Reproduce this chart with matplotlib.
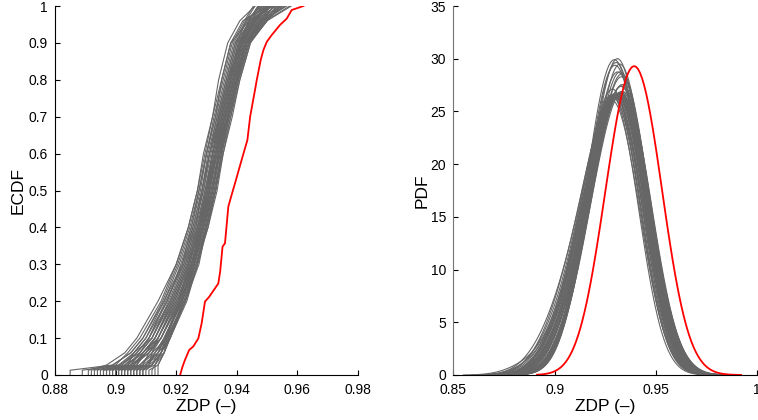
import numpy as np
import matplotlib.pyplot as plt

plt.rcParams['font.family'] = ['Liberation Sans', 'DejaVu Sans']

# ECDF levels shared by the grey curves (first level = first jump 1/75)
gray_levels = [0.013, 0.027, 0.06, 0.1, 0.2, 0.3, 0.4, 0.5, 0.6, 0.7, 0.8, 0.9, 0.96, 1.0]

# ZDP value of each grey curve at those levels
gray_curves = [
    [0.885, 0.899, 0.905, 0.909, 0.916, 0.921, 0.925, 0.928, 0.930, 0.933, 0.936, 0.939, 0.943, 0.948],
    [0.891, 0.897, 0.903, 0.907, 0.914, 0.920, 0.924, 0.927, 0.929, 0.932, 0.934, 0.937, 0.941, 0.946],
    [0.893, 0.902, 0.906, 0.910, 0.916, 0.922, 0.925, 0.9275, 0.930, 0.933, 0.935, 0.938, 0.942, 0.950],
    [0.894, 0.900, 0.904, 0.908, 0.915, 0.920, 0.924, 0.927, 0.9295, 0.932, 0.935, 0.938, 0.944, 0.947],
    [0.896, 0.903, 0.907, 0.911, 0.917, 0.922, 0.926, 0.929, 0.931, 0.934, 0.937, 0.940, 0.945, 0.951],
    [0.897, 0.904, 0.908, 0.911, 0.918, 0.923, 0.926, 0.929, 0.9315, 0.934, 0.937, 0.941, 0.946, 0.949],
    [0.898, 0.905, 0.908, 0.912, 0.918, 0.923, 0.927, 0.9295, 0.932, 0.935, 0.938, 0.941, 0.944, 0.952],
    [0.899, 0.903, 0.909, 0.913, 0.919, 0.924, 0.927, 0.930, 0.932, 0.935, 0.938, 0.942, 0.947, 0.950],
    [0.900, 0.906, 0.910, 0.913, 0.919, 0.924, 0.928, 0.930, 0.933, 0.936, 0.939, 0.942, 0.946, 0.953],
    [0.901, 0.907, 0.909, 0.914, 0.920, 0.925, 0.928, 0.931, 0.933, 0.936, 0.939, 0.943, 0.948, 0.951],
    [0.902, 0.905, 0.911, 0.914, 0.920, 0.925, 0.928, 0.931, 0.9335, 0.936, 0.939, 0.943, 0.947, 0.954],
    [0.903, 0.908, 0.912, 0.915, 0.921, 0.925, 0.929, 0.9315, 0.934, 0.937, 0.940, 0.943, 0.949, 0.952],
    [0.904, 0.909, 0.911, 0.915, 0.921, 0.926, 0.929, 0.932, 0.934, 0.937, 0.940, 0.944, 0.948, 0.955],
    [0.905, 0.908, 0.913, 0.916, 0.922, 0.926, 0.929, 0.932, 0.9345, 0.9375, 0.9405, 0.944, 0.950, 0.953],
    [0.906, 0.910, 0.914, 0.916, 0.922, 0.926, 0.930, 0.9325, 0.935, 0.937, 0.940, 0.943, 0.949, 0.956],
    [0.907, 0.911, 0.913, 0.917, 0.923, 0.927, 0.930, 0.933, 0.935, 0.9375, 0.9405, 0.944, 0.950, 0.958],
    [0.908, 0.912, 0.915, 0.917, 0.923, 0.927, 0.930, 0.933, 0.935, 0.937, 0.940, 0.943, 0.948, 0.951],
    [0.909, 0.913, 0.915, 0.918, 0.9235, 0.927, 0.930, 0.932, 0.934, 0.936, 0.939, 0.942, 0.946, 0.949],
    [0.912, 0.913, 0.916, 0.918, 0.923, 0.926, 0.929, 0.931, 0.933, 0.935, 0.938, 0.941, 0.945, 0.948],
    [0.914, 0.914, 0.916, 0.917, 0.921, 0.924, 0.927, 0.930, 0.932, 0.934, 0.937, 0.940, 0.943, 0.946],
    [0.889, 0.901, 0.906, 0.910, 0.917, 0.9215, 0.9255, 0.9285, 0.931, 0.9335, 0.9365, 0.9395, 0.9435, 0.9475],
    [0.892, 0.899, 0.905, 0.909, 0.9155, 0.9205, 0.9245, 0.9275, 0.930, 0.9325, 0.9355, 0.9385, 0.9425, 0.9455],
    [0.895, 0.902, 0.907, 0.911, 0.9165, 0.9225, 0.9255, 0.9285, 0.9305, 0.9335, 0.9365, 0.9395, 0.9445, 0.9485],
    [0.896, 0.904, 0.906, 0.912, 0.9175, 0.9225, 0.9265, 0.9285, 0.931, 0.9345, 0.9375, 0.9405, 0.9455, 0.9505],
    [0.897, 0.901, 0.908, 0.912, 0.9185, 0.9235, 0.9265, 0.9295, 0.932, 0.9345, 0.9375, 0.9415, 0.9465, 0.9495],
    [0.898, 0.906, 0.909, 0.913, 0.9185, 0.9235, 0.9275, 0.930, 0.9325, 0.9355, 0.9385, 0.9415, 0.9455, 0.9515],
    [0.899, 0.905, 0.910, 0.914, 0.9195, 0.9245, 0.9275, 0.9305, 0.933, 0.9355, 0.9385, 0.9425, 0.9475, 0.9525],
    [0.900, 0.904, 0.909, 0.913, 0.9195, 0.924, 0.928, 0.9305, 0.933, 0.936, 0.939, 0.942, 0.946, 0.950],
    [0.901, 0.906, 0.911, 0.915, 0.9205, 0.925, 0.9285, 0.931, 0.9335, 0.9365, 0.9395, 0.943, 0.948, 0.9545],
    [0.902, 0.908, 0.912, 0.914, 0.9205, 0.9255, 0.9285, 0.9315, 0.934, 0.9365, 0.9395, 0.9435, 0.9485, 0.952],
    [0.903, 0.907, 0.910, 0.915, 0.9215, 0.9255, 0.929, 0.932, 0.934, 0.937, 0.940, 0.9435, 0.949, 0.9555],
    [0.904, 0.910, 0.913, 0.916, 0.9215, 0.926, 0.9295, 0.932, 0.9345, 0.9375, 0.9405, 0.944, 0.9495, 0.9535],
    [0.905, 0.909, 0.914, 0.9165, 0.922, 0.9265, 0.930, 0.9325, 0.935, 0.938, 0.941, 0.9445, 0.9485, 0.9565],
    [0.906, 0.911, 0.912, 0.917, 0.9225, 0.9265, 0.9305, 0.933, 0.9355, 0.9385, 0.941, 0.9445, 0.950, 0.9545],
    [0.907, 0.910, 0.915, 0.9175, 0.923, 0.927, 0.9305, 0.9335, 0.9355, 0.938, 0.9405, 0.944, 0.9495, 0.9575],
    [0.908, 0.912, 0.914, 0.918, 0.923, 0.9275, 0.930, 0.933, 0.935, 0.937, 0.940, 0.943, 0.9475, 0.9505],
    [0.909, 0.911, 0.916, 0.9175, 0.9225, 0.927, 0.9295, 0.932, 0.9345, 0.9365, 0.9395, 0.9425, 0.9465, 0.9495],
    [0.910, 0.912, 0.915, 0.9165, 0.9215, 0.9255, 0.9285, 0.931, 0.9335, 0.9355, 0.9385, 0.9415, 0.9455, 0.9485],
    [0.911, 0.914, 0.916, 0.918, 0.922, 0.925, 0.928, 0.9305, 0.9325, 0.935, 0.938, 0.941, 0.9445, 0.9475],
    [0.913, 0.913, 0.915, 0.9165, 0.921, 0.9245, 0.9275, 0.930, 0.932, 0.9345, 0.9375, 0.9405, 0.944, 0.947],
]

# observed (red) ECDF
red_F = [0.0, 0.023, 0.041, 0.068, 0.077, 0.099, 0.14, 0.199, 0.212, 0.248, 0.28, 0.348,
         0.357, 0.384, 0.456, 0.474, 0.528, 0.583, 0.637, 0.70, 0.772, 0.80, 0.854, 0.881,
         0.903, 0.921, 0.949, 0.966, 0.989, 1.0]
red_x = [0.9213, 0.9221, 0.9229, 0.9243, 0.9256, 0.9273, 0.9284, 0.9295, 0.9309, 0.9339, 0.9345, 0.9353,
         0.9361, 0.9364, 0.9372, 0.9378, 0.9397, 0.9416, 0.9435, 0.9444, 0.9460, 0.9466, 0.9479, 0.9488,
         0.9499, 0.9515, 0.9543, 0.9565, 0.9581, 0.9620]

bandwidth = 0.01

left_xticks = [0.88, 0.9, 0.92, 0.94, 0.96, 0.98]
left_xlabels = ['0.88', '0.9', '0.92', '0.94', '0.96', '0.98']
left_yticks = [0, 0.1, 0.2, 0.3, 0.4, 0.5, 0.6, 0.7, 0.8, 0.9, 1]
left_ylabels = ['0', '0.1', '0.2', '0.3', '0.4', '0.5', '0.6', '0.7', '0.8', '0.9', '1']
right_xticks = [0.85, 0.9, 0.95, 1.0]
right_xlabels = ['0.85', '0.9', '0.95', '1']
right_yticks = [0, 5, 10, 15, 20, 25, 30, 35]

GREY = '#666666'


def kde(xs, fs, h):
    # gaussian kernel density of a piecewise linear ecdf
    xs = np.asarray(xs)
    fs = np.asarray(fs)
    pts = np.concatenate([[xs[0]], (xs[:-1] + xs[1:]) / 2])
    w = np.concatenate([[fs[0]], np.diff(fs)])
    grid = np.linspace(xs.min() - 3 * h, xs.max() + 3 * h, 100)
    z = (grid[:, None] - pts[None, :]) / h
    dens = (w[None, :] * np.exp(-0.5 * z ** 2)).sum(axis=1) / (h * np.sqrt(2 * np.pi))
    return grid, dens / w.sum()


fig = plt.figure(figsize=(7.58, 4.2), dpi=100)
ax1 = fig.add_axes([55 / 758, 45 / 420, 303 / 758, 369 / 420])
ax2 = fig.add_axes([453.3 / 758, 45 / 420, 304 / 758, 369 / 420])

for xs in gray_curves:
    ax1.plot([xs[0]] + xs, [0] + gray_levels, color=GREY, lw=0.8)
    g, d = kde(xs, gray_levels, bandwidth)
    ax2.plot(g, d, color=GREY, lw=0.8)

ax1.plot(red_x, red_F, color='red', lw=1.3)
g, d = kde(red_x, red_F, bandwidth)
ax2.plot(g, d, color='red', lw=1.3)

ax1.set_xlim(0.88, 0.98)
ax1.set_ylim(0, 1)
ax1.set_xticks(left_xticks, left_xlabels)
ax1.set_yticks(left_yticks, left_ylabels)
ax1.set_ylabel('ECDF', fontsize=12.5, labelpad=2)

ax2.set_xlim(0.85, 1.0)
ax2.set_ylim(0, 35)
ax2.set_xticks(right_xticks, right_xlabels)
ax2.set_yticks(right_yticks, [str(v) for v in right_yticks])
ax2.set_ylabel('PDF', fontsize=12.5, labelpad=1)

for ax in (ax1, ax2):
    ax.set_xlabel('ZDP (\u2013)', fontsize=12.5, labelpad=1)
    ax.spines['top'].set_visible(False)
    ax.spines['right'].set_visible(False)
    ax.tick_params(direction='in', length=3.5, width=0.8, labelsize=10)
    ax.tick_params(axis='x', pad=6)
    ax.tick_params(axis='y', pad=5)
ax2.spines['left'].set_color('0.45')

plt.savefig('out.png', dpi=100)
